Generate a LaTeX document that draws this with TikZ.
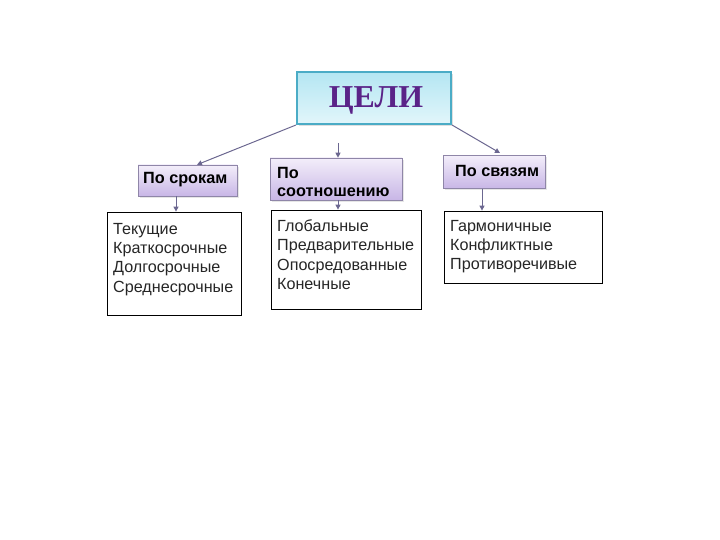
\documentclass[tikz,border=0pt]{standalone}
\usepackage{fontspec}
\setmainfont{Liberation Sans}
\newfontfamily\headfont{Liberation Serif}
\usetikzlibrary{arrows.meta,shadows}
\definecolor{headpurple}{HTML}{5A2388}
\definecolor{tealb}{HTML}{4BACC6}
\definecolor{cyantop}{HTML}{B4E6F2}
\definecolor{cyanbot}{HTML}{E2F6FB}
\definecolor{lavtop}{HTML}{F3EEFA}
\definecolor{lavbot}{HTML}{C8B6E6}
\definecolor{lavborder}{HTML}{8F86A8}
\definecolor{arrowc}{HTML}{6B6790}
\definecolor{listc}{HTML}{262626}
\tikzset{
  headbox/.style={draw=tealb, line width=2pt, top color=cyantop, bottom color=cyanbot,
    drop shadow={opacity=0.25, shadow xshift=2pt, shadow yshift=-2pt}},
  catbox/.style={draw=lavborder, line width=0.6pt, top color=lavtop, bottom color=lavbot,
    drop shadow={opacity=0.2, shadow xshift=2pt, shadow yshift=-2pt}},
  listbox/.style={draw=black, line width=0.8pt, fill=white},
  conn/.style={draw=arrowc, line width=1pt, -{Triangle[length=5pt,width=5pt]}},
  cattext/.style={font=\fontsize{16.3}{18}\selectfont\bfseries, anchor=west, align=left, inner sep=0pt},
  listtext/.style={font=\fontsize{16.2}{19.4}\selectfont, text=listc, anchor=north west, align=left, inner sep=0pt}
}
\begin{document}
\begin{tikzpicture}[x=1bp,y=-1bp]
\useasboundingbox (0,0) rectangle (720,540);
% head
\node[headbox, minimum width=154bp, minimum height=52bp, inner sep=0pt] (goal) at (374,98) {};
\node[font=\headfont\bfseries\fontsize{32}{36}\selectfont, text=headpurple] (goaltext) at (376,100) {ЦЕЛИ};
% category boxes
\node[catbox, minimum width=99bp, minimum height=31bp, inner sep=0pt] (c1) at (187.5,180.5) {};
\node[cattext] (t1) at (143,180) {По срокам};
\node[catbox, minimum width=132bp, minimum height=42bp, inner sep=0pt] (c2) at (336,179) {};
\node[cattext, font=\fontsize{16.3}{18.5}\selectfont\bfseries] (t2) at (277,182) {По\\соотношению};
\node[catbox, minimum width=102bp, minimum height=33bp, inner sep=0pt] (c3) at (494,172) {};
\node[cattext] (t3) at (455,171) {По связям};
% list boxes
\node[listbox, minimum width=134bp, minimum height=103bp, inner sep=0pt] (l1) at (174,263.5) {};
\node[listtext] (lt1) at (113,223) {Текущие\\Краткосрочные\\Долгосрочные\\Среднесрочные};
\node[listbox, minimum width=150bp, minimum height=99bp, inner sep=0pt] (l2) at (346,259.5) {};
\node[listtext] (lt2) at (277,219.5) {Глобальные\\Предварительные\\Опосредованные\\Конечные};
\node[listbox, minimum width=158bp, minimum height=72bp, inner sep=0pt] (l3) at (523,247) {};
\node[listtext] (lt3) at (450,220) {Гармоничные\\Конфликтные\\Противоречивые};
% connectors
\coordinate (m0) at (338,143);
\draw[conn] (goal.south west) -- (c1.north -| 197,0);
\draw[conn] (m0) -- (c2.north -| m0);
\draw[conn] (goal.south east) -- (500,153);
\draw[conn] (c1.south -| 176,0) -- (l1.north -| 176,0);
\draw[conn] (c2.south -| 338,0) -- (l2.north -| 338,0);
\draw[conn] (c3.south -| 482,0) -- (l3.north -| 482,0);
\end{tikzpicture}
\end{document}
